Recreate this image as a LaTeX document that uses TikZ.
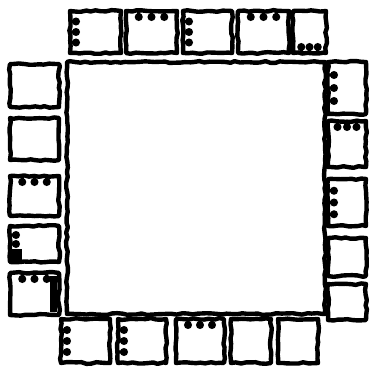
\documentclass[tikz,border=0pt]{standalone}
\usetikzlibrary{decorations.pathmorphing}

\tikzset{
  sketch/.style={line width=4.4pt, line join=round, line cap=round,
    decorate, decoration={random steps, segment length=5pt, amplitude=0.9pt}},
  tab/.style={line width=3.4pt, line cap=round},
}

\begin{document}
\begin{tikzpicture}[x=1pt, y=-1pt]
    \useasboundingbox (0,0) rectangle (369,369);
    \pgfmathsetseed{7}

    % Table
    \draw[sketch] (67,62) rectangle (325,314);

    % Chairs, top row
    \foreach \xa/\xb in {70/121, 126/177, 183/232, 238/289, 293/326}
        \draw[sketch] (\xa,11) rectangle (\xb,53);
    % Chairs, bottom row
    \foreach \xa/\xb in {61/110, 118/166, 176/224, 231/271, 278/318}
        \draw[sketch] (\xa,319) rectangle (\xb,363);
    % Chairs, left column
    \foreach \ya/\yb in {64/107, 118/160, 176/216, 226/262, 273/315}
        \draw[sketch] (10,\ya) rectangle (59,\yb);
    % Chairs, right column
    \foreach \ya/\yb in {62/114, 121/167, 179/226, 238/276, 284/320}
        \draw[sketch] (328,\ya) rectangle (366,\yb);

    % Tabs on left edges
    \foreach \xa/\ya/\yb in {70/11/53, 183/11/53, 10/226/262, 328/62/114,
                             328/179/226, 61/319/363, 118/319/363}
        \foreach \f in {0.25, 0.5, 0.75}
            \draw[tab] (\xa,{\ya+\f*(\yb-\ya)}) -- ++(6,0) circle (2.2pt);

    % Tabs on top edges
    \foreach \xa/\xb/\ya in {126/177/11, 238/289/11, 10/59/176, 10/59/273,
                             328/366/121, 176/224/319}
        \foreach \f in {0.25, 0.5, 0.75}
            \draw[tab] ({\xa+\f*(\xb-\xa)},\ya) -- ++(0,6) circle (2.2pt);

    % Tabs on bottom edge
    \foreach \f in {0.25, 0.5, 0.75}
        \draw[tab] ({293+\f*33},53) -- ++(0,-6) circle (2.2pt);

    % Filled corners
    \fill (12,249) rectangle (22,260);
    \fill (50,276) rectangle (57,312);
\end{tikzpicture}
\end{document}
